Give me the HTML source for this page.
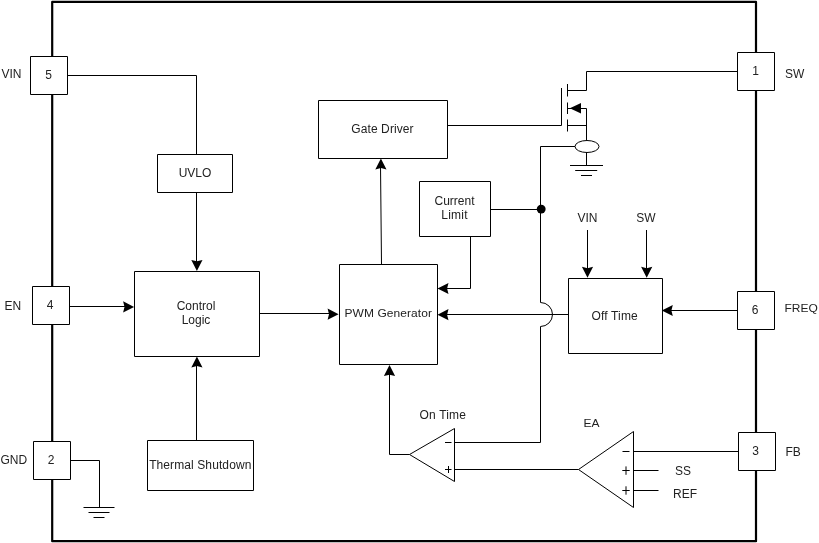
<!DOCTYPE html>
<html>
<head>
<meta charset="utf-8">
<title>Block Diagram</title>
<style>
html,body{margin:0;padding:0;background:#fff;}
svg{display:block;will-change:transform;}
text{font-family:"Liberation Sans",Arial,sans-serif;font-size:12px;fill:#222;}
.l{stroke:#000;stroke-width:1;fill:none;stroke-linejoin:round;}
.b{stroke:#000;stroke-width:1;fill:#fff;stroke-linejoin:round;}
.t{stroke:#000;stroke-width:2.2;fill:none;}
.a{fill:#000;stroke:none;}
.m{text-anchor:middle;}
</style>
</head>
<body>
<svg width="819" height="543" viewBox="0 0 819 543">
<rect x="0" y="0" width="819" height="543" fill="#fff"/>
<!-- outer border -->
<rect class="t" x="52.2" y="1.9" width="703.8" height="539.3" stroke-linejoin="round"/>

<!-- pins -->
<rect class="b" x="30.5" y="56.5" width="37" height="38"/>
<rect class="b" x="32.5" y="286.5" width="37" height="38"/>
<rect class="b" x="33.5" y="441.5" width="37" height="38"/>
<rect class="b" x="737.5" y="52.5" width="37" height="38"/>
<rect class="b" x="737.5" y="291.5" width="37" height="38"/>
<rect class="b" x="738.5" y="432.5" width="37" height="38"/>
<text class="m" x="48.5" y="78.90">5</text>
<text class="m" x="50" y="308.80">4</text>
<text class="m" x="51" y="463.80">2</text>
<text class="m" x="755.5" y="74.50">1</text>
<text class="m" x="755" y="314.00">6</text>
<text class="m" x="755.5" y="455.00">3</text>
<text x="1.5" y="77.59">VIN</text>
<text x="4.5" y="310.00">EN</text>
<text x="0.5" y="464.20">GND</text>
<text x="785" y="77.70">SW</text>
<text transform="scale(1 0.955)" x="784.5" y="327.22">FREQ</text>
<text x="785.5" y="455.51">FB</text>

<!-- blocks -->
<rect class="b" x="157.5" y="154.5" width="75" height="38"/>
<text class="m" x="195" y="177.00">UVLO</text>
<rect class="b" x="134.5" y="271.5" width="125" height="85"/>
<text class="m" x="196" y="310.00">Control</text>
<text class="m" x="196" y="324.10">Logic</text>
<rect class="b" x="147.5" y="440.5" width="106" height="50"/>
<text class="m" x="200.3" y="469.00" letter-spacing="0.1">Thermal Shutdown</text>
<rect class="b" x="318.5" y="100.5" width="129" height="58"/>
<text class="m" x="382.5" y="132.50" letter-spacing="0.1">Gate Driver</text>
<rect class="b" x="419.5" y="181.5" width="71" height="55"/>
<text class="m" x="454.5" y="204.80">Current</text>
<text class="m" x="454.5" y="219.20" letter-spacing="0.2">Limit</text>
<rect class="b" x="339.5" y="264.5" width="98" height="100"/>
<text transform="scale(1 0.955)" class="m" x="388.3" y="332.46" letter-spacing="0.08">PWM Generator</text>
<rect class="b" x="568.5" y="278.5" width="94" height="75"/>
<text class="m" x="614.7" y="319.50" letter-spacing="0.15">Off Time</text>

<!-- VIN -> UVLO -> Control Logic -->
<path class="l" d="M67.5 75.5H196.5V154.5"/>
<path class="l" d="M196.5 192.5V265"/>
<path class="a" d="M0 0L-11 -5.6L-9.6 0L-11 5.6z" transform="translate(196.9 270.9) rotate(90)"/>
<!-- EN -> Control -->
<path class="l" d="M69.5 306.5H128"/>
<path class="a" d="M0 0L-11 -5.6L-9.6 0L-11 5.6z" transform="translate(134.1 306.9) rotate(0)"/>
<!-- Thermal -> Control -->
<path class="l" d="M196.500 440.500V363"/>
<path class="a" d="M0 0L-11 -5.6L-9.6 0L-11 5.6z" transform="translate(196.9 356.5) rotate(-90)"/>
<!-- Control -> PWM -->
<path class="l" d="M259.500 313.500H333"/>
<path class="a" d="M0 0L-11 -5.6L-9.6 0L-11 5.6z" transform="translate(338.6 314.2) rotate(0)"/>
<!-- GND -->
<path class="l" d="M70.500 460.500H99.500V507.500M83.500 507.500H114.500M88.500 512.500H109.500M93.500 517.500H104.500"/>
<!-- PWM -> Gate Driver -->
<path class="l" d="M381.500 264.500L380.500 165"/>
<path class="a" d="M0 0L-11 -5.6L-9.6 0L-11 5.6z" transform="translate(380.9 158.5) rotate(-90)"/>
<!-- Gate driver -> MOSFET -->
<path class="l" d="M447.500 125.500H561.500M561.500 88V125.500"/>
<path class="l" d="M567.500 84V96.500M567.500 102.500V114M567.500 119.500V131.500"/>
<path class="l" d="M567.500 90.500H586.500V71.500H737.500"/>
<path class="l" d="M567.500 108.500H586.500V140.500M567.500 125.500H586.500"/>
<path class="a" d="M569.8 108.3L581 103V113.5z"/>
<ellipse class="b" cx="587" cy="146.500" rx="12" ry="6"/>
<path class="l" d="M586.500 152.500V165.500M570 165.500H603M575.200 170.500H597.200M581 175.500H592"/>
<!-- sense line -->
<path class="l" d="M575 146.500H540.500V302.500A12 12 0 0 1 540.500 326.500V442.500H454.500"/>
<circle class="a" cx="541.2" cy="209.1" r="4.45"/>
<path class="l" d="M490.500 209.500H540.500"/>
<!-- Current limit -> PWM -->
<path class="l" d="M470.500 236.500V288.500H444"/>
<path class="a" d="M0 0L-11 -5.6L-9.6 0L-11 5.6z" transform="translate(437.5 288.5) rotate(180)"/>
<!-- Off time -> PWM -->
<path class="l" d="M568.500 314.500H444"/>
<path class="a" d="M0 0L-11 -5.6L-9.6 0L-11 5.6z" transform="translate(437.5 314.7) rotate(180)"/>
<!-- VIN, SW -> Off time -->
<text class="m" x="587.500" y="222.00">VIN</text>
<text class="m" x="645.8" y="222.00">SW</text>
<path class="l" d="M587.500 230V272"/>
<path class="a" d="M0 0L-11 -5.6L-9.6 0L-11 5.6z" transform="translate(587.5 277.8) rotate(90)"/>
<path class="l" d="M646.500 230V272"/>
<path class="a" d="M0 0L-11 -5.6L-9.6 0L-11 5.6z" transform="translate(646.7 277.8) rotate(90)"/>
<!-- FREQ -> Off time -->
<path class="l" d="M737.500 310.500H669"/>
<path class="a" d="M0 0L-11 -5.6L-9.6 0L-11 5.6z" transform="translate(661.8 310.5) rotate(180)"/>
<!-- On time comparator -->
<path class="b" d="M409.500 454.500L454.500 428.500V481.500z"/>
<text x="419.500" y="419.49" letter-spacing="0.18">On Time</text>
<path class="l" d="M445 442.500H451.500M445 469.500H451.500M448.500 466V473"/>
<path class="l" d="M409.500 454.500H389.500V371"/>
<path class="a" d="M0 0L-11 -5.6L-9.6 0L-11 5.6z" transform="translate(389.5 365.1) rotate(-90)"/>
<path class="l" d="M454.500 469.500H578.500"/>
<!-- EA -->
<path class="b" d="M578.500 469.500L633.500 431.500V507.500z"/>
<text transform="scale(1 0.955)" x="583.500" y="447.12">EA</text>
<path class="l" d="M622.500 451.500H629.500M622.300 470.500H629.700M626 466.400V474.800M622.300 490.500H629.700M626 486.300V494.700"/>
<path class="l" d="M633.500 451.500H738.500M633.500 470.500H658.500M633.500 490.500H658.500"/>
<text x="675" y="474.50">SS</text>
<text x="673" y="497.51">REF</text>
</svg>
</body>
</html>
